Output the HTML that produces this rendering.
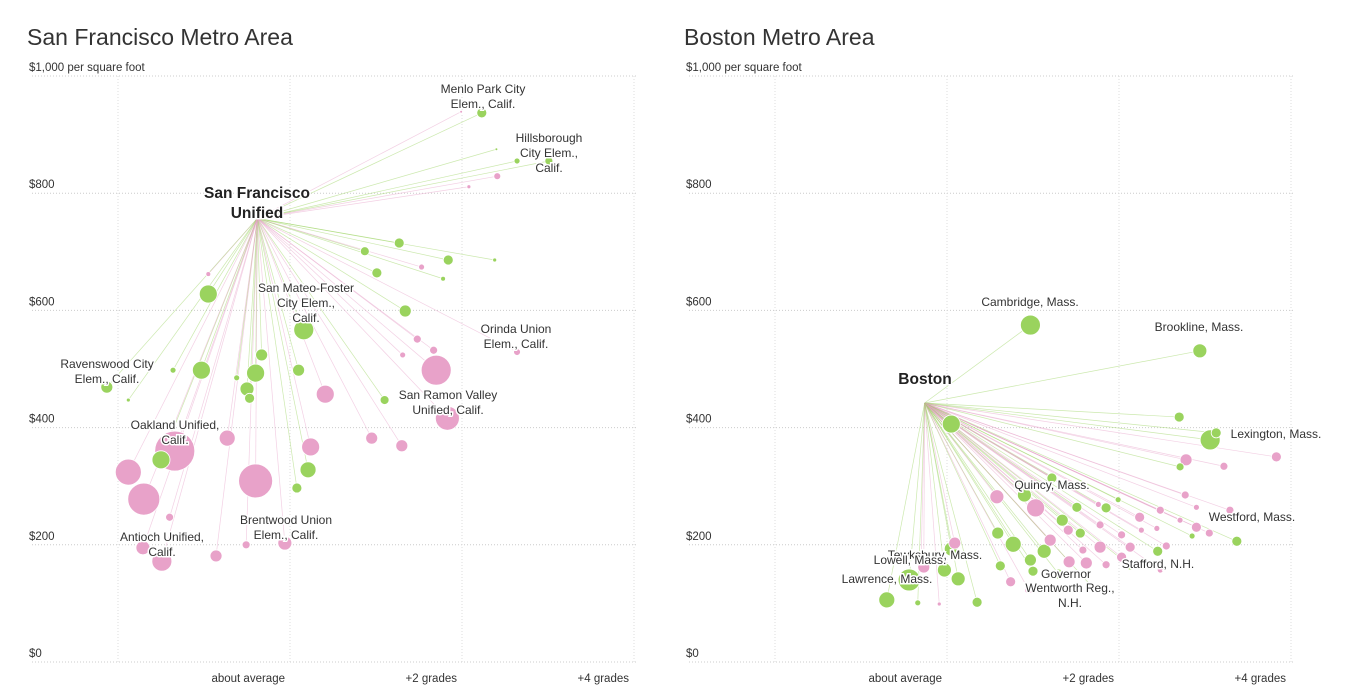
<!DOCTYPE html>
<html><head><meta charset="utf-8">
<style>
html,body{margin:0;padding:0;background:#fff;width:1352px;height:696px;overflow:hidden}
svg{display:block;font-family:"Liberation Sans Narrow","Liberation Sans",sans-serif}
.t{font-size:23px;fill:#333}
.ax{font-size:11.5px;fill:#333}
.lb{font-size:12px;fill:#333;stroke:#fff;stroke-width:3px;paint-order:stroke}
.hub{font-size:15.5px;font-weight:bold;fill:#222;stroke:#fff;stroke-width:3px;paint-order:stroke}
</style></head><body>
<svg id="c" width="1352" height="696"></svg>
<script>
// San Francisco data: grade difference, price per sq ft, enrollment size, type (g=green,p=pink)
const sfGrade=[2.23,1.99,2.40,2.64,3.01,2.41,2.08,1.27,0.87,1.84,2.38,1.53,1.01,1.78,-0.95,-0.95,1.34,0.16,1.48,1.67,2.64,1.31,-0.33,1.70,-1.03,-0.40,0.10,-1.36,-0.62,-0.50,-2.13,-0.47,1.10,0.41,-1.88,1.83,-0.73,0.95,1.30,0.24,-1.34,-1.50,-1.88,0.21,-0.40,0.08,-1.70,-1.40,-0.06,-0.51,-1.71,-0.86,-1.49];
const sfPrice=[937,939,875,855,855,829,811,715,701,686,686,674,664,654,662,628,599,567,551,532,529,524,524,498,498,493,498,498,485,466,469,450,447,457,447,416,382,382,369,367,360,345,324,328,309,297,278,247,203,200,195,181,172];
const sfSize=[25,2,2,9,16,12,4,25,20,25,4,9,25,6,6,81,36,100,16,16,12,9,36,225,81,81,36,9,9,49,36,25,20,81,4,144,64,36,36,81,400,81,169,64,289,25,256,16,49,16,49,36,100];
const sfType="gpgggppggggpggpgggppppgpgggggggggpgppppppgpgpgppppppp";
// Boston data
const bosGrade=[0.97,2.94,0.05,2.70,3.13,3.06,2.78,3.83,3.22,2.71,1.22,0.58,0.90,1.03,2.90,3.37,3.05,2.24,2.48,1.34,1.55,0.77,0.59,0.62,1.13,1.78,2.13,2.45,2.55,0.05,0.09,-0.30,-0.27,-0.44,-0.03,0.13,0.35,-0.70,-0.34,-0.09,1.00,1.30,0.74,1.42,0.95,1.62,2.03,1.85,2.13,2.77,2.90,3.29,1.85,1.51,1.76,1.41,1.20,0.97,1.58,2.26,2.44,2.85,2.71,1.78,2.03,2.48,1.72,1.99];
const bosPrice=[575,531,406,418,391,379,345,350,334,333,314,282,285,263,230,206,220,247,259,242,220,201,220,164,189,196,196,189,198,193,203,177,162,140,157,142,102,106,101,99,155,150,137,171,123,169,179,166,164,285,264,259,263,264,269,225,208,174,191,225,228,215,242,234,217,157,123,277];
const bosSize=[100,49,81,25,25,100,36,25,16,16,25,49,49,81,25,25,16,25,16,36,25,64,36,25,49,36,25,25,16,49,36,49,36,121,49,49,25,64,9,4,25,25,25,36,16,36,25,16,16,16,9,16,25,25,9,25,36,36,16,9,9,9,9,16,16,9,9,9];
const bosType="ggggggpppggpgppgpppggggggppgpgpppggggggpggppppppgpppggpppgpppgppppgg";
const yTicks=[0,200,400,600,800,1000];
const yTickLabels=["$0","$200","$400","$600","$800","$1,000 per square foot"];
const xTicks=[0,2,4];
const xTickLabels=["about average","+2 grades","+4 grades"];

const NS="http://www.w3.org/2000/svg";
const svg=document.getElementById('c');
function mk(tag,attrs,parent){const e=document.createElementNS(NS,tag);for(const k in attrs)e.setAttribute(k,attrs[k]);(parent||svg).appendChild(e);return e;}
const yS=v=>662-v*0.586;
const GREEN="#9ad35e",PINK="#e8a2c9";

function chart(ox,title,hub,grade,price,size,type,labels,hubLabel,name){
  const xS=g=>ox+g*86;
  const g=mk('g',{});
  
  
  const t=mk('text',{x:ox-263,y:45,class:'t'},g);t.textContent=title;
  
  yTicks.forEach((v,i)=>{
    const l=mk('line',{x1:ox-258,x2:ox+346,y1:yS(v),y2:yS(v),stroke:'#ccc','stroke-dasharray':'1,2'},g);
    
    const tx=mk('text',{x:ox-261,y:yS(v)-5,class:'ax'},g);tx.textContent=yTickLabels[i];
    
  });
  [-2,0,2,4].forEach(v=>{
    const l=mk('line',{x1:xS(v),x2:xS(v),y1:76,y2:662,stroke:'#ddd','stroke-dasharray':'1,2'},g);
    
  });
  xTicks.forEach((v,i)=>{
    const tx=mk('text',{x:xS(v)-5,y:682,class:'ax','text-anchor':'end'},g);tx.textContent=xTickLabels[i];
    
  });
  const hx=xS(hub[0]),hy=yS(hub[1]);
  grade.forEach((v,i)=>{
    const l=mk('line',{x1:hx,y1:hy,x2:xS(v),y2:yS(price[i]),stroke:type[i]=='g'?GREEN:PINK,'stroke-width':0.7,'stroke-opacity':0.5},g);
    
  });
  const order=grade.map((v,i)=>i).sort((a,b)=>size[b]-size[a]);
  order.forEach(i=>{
    const c=mk('circle',{cx:xS(grade[i]),cy:yS(price[i]),r:Math.sqrt(size[i]),fill:type[i]=='g'?GREEN:PINK,stroke:'#fff','stroke-width':0.8},g);
    
  });
  labels.forEach(L=>{
    const tx=mk('text',{x:L[0],y:L[1],class:'lb','text-anchor':'middle'},g);
    L[2].forEach((s,j)=>{const ts=mk('tspan',{x:L[0],dy:j?15:0},tx);ts.textContent=s;});
    
  });
  const ht=mk('text',{x:hubLabel[0],y:hubLabel[1],class:'hub','text-anchor':'middle'},g);
  hubLabel[2].forEach((s,j)=>{const ts=mk('tspan',{x:hubLabel[0],dy:j?20:0},ht);ts.textContent=s;});
  
}
chart(290,"San Francisco Metro Area",[-0.38,757],sfGrade,sfPrice,sfSize,sfType,[
 [483,93,["Menlo Park City","Elem., Calif."]],
 [549,142,["Hillsborough","City Elem.,","Calif."]],
 [306,292,["San Mateo-Foster","City Elem.,","Calif."]],
 [516,333,["Orinda Union","Elem., Calif."]],
 [107,368,["Ravenswood City","Elem., Calif."]],
 [448,399,["San Ramon Valley","Unified, Calif."]],
 [175,429,["Oakland Unified,","Calif."]],
 [162,541,["Antioch Unified,","Calif."]],
 [286,524,["Brentwood Union","Elem., Calif."]]
],[257,198,["San Francisco","Unified"]],"sf-chart");
chart(947,"Boston Metro Area",[-0.26,442],bosGrade,bosPrice,bosSize,bosType,[
 [1030,306,["Cambridge, Mass."]],
 [1199,331,["Brookline, Mass."]],
 [1276,438,["Lexington, Mass."]],
 [1052,489,["Quincy, Mass."]],
 [1252,521,["Westford, Mass."]],
 [1158,568,["Stafford, N.H."]],
 [935,559,["Tewksbury, Mass."]],
 [910,564,["Lowell, Mass."]],
 [887,583,["Lawrence, Mass."]],
 [1066,578,["Governor"]],
 [1070,592,["Wentworth Reg.,","N.H."]]
],[925,384,["Boston"]],"boston-chart");
</script>
</body></html>
